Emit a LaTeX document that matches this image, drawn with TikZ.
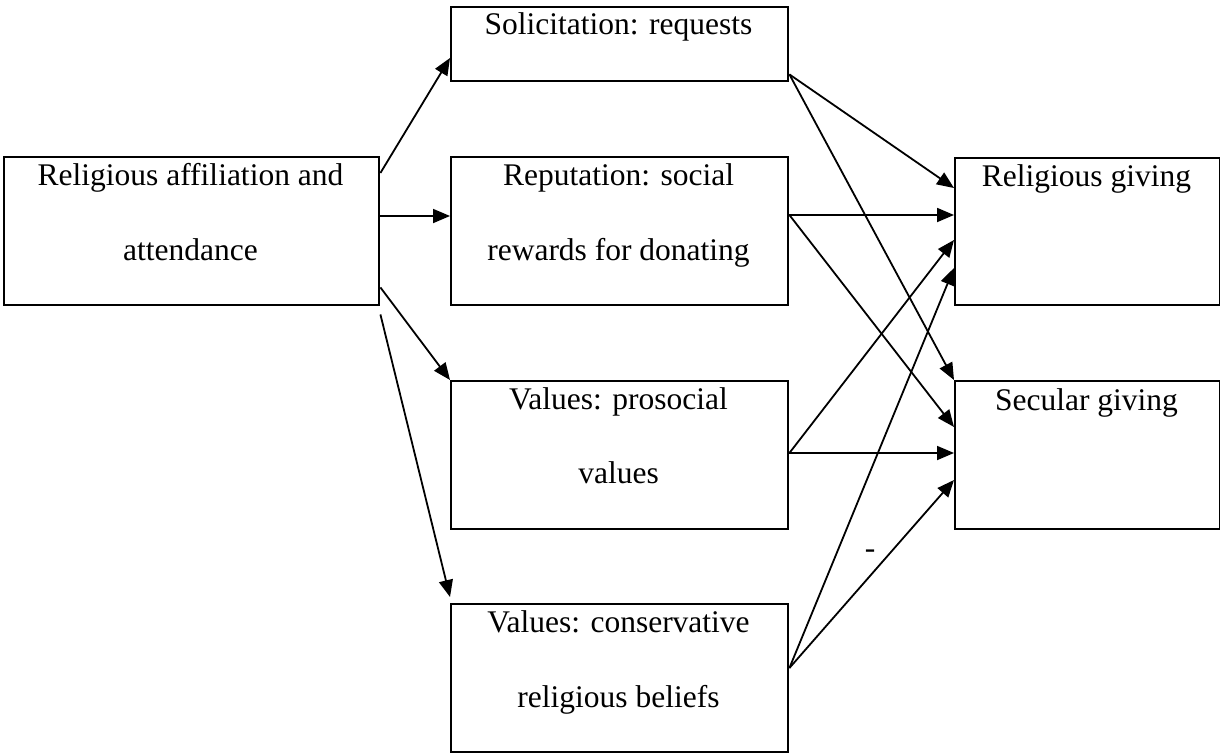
\documentclass[tikz,border=0pt]{standalone}
\usepackage{fontspec}
\setmainfont{Liberation Serif}
\usetikzlibrary{arrows.meta,calc}
\begin{document}
\begin{tikzpicture}[x=1pt,y=-1pt,
  box/.style={draw, line width=2.4pt, inner sep=0pt, anchor=north west},
  txt/.style={anchor=base, inner sep=0pt, font=\fontsize{31.5}{38}\selectfont},
  arr/.style={line width=1.8pt, -{Triangle[length=17pt,width=14pt]}}]
\useasboundingbox (0,0) rectangle (1220,752);
% boxes
\node[box, minimum width=375pt, minimum height=148pt] (aff) at (3,156) {};
\node[box, minimum width=337pt, minimum height=74pt]  (sol) at (450,6) {};
\node[box, minimum width=337pt, minimum height=148pt] (rep) at (450,156) {};
\node[box, minimum width=337pt, minimum height=148pt] (pro) at (450,380) {};
\node[box, minimum width=337pt, minimum height=148pt] (con) at (450,603) {};
\node[box, minimum width=265pt, minimum height=147pt] (rel) at (954,157) {};
\node[box, minimum width=265pt, minimum height=148pt] (sec) at (954,380) {};
% texts
\node[txt] (aff1) at (190.5,185) {Religious affiliation and};
\node[txt] (aff2) at (190.5,260) {attendance};
\node[txt] (sol1) at (618.5,35) {Solicitation: requests};
\node[txt] (rep1) at (618.5,185) {Reputation: social};
\node[txt] (rep2) at (618.5,260) {rewards for donating};
\node[txt] (pro1) at (618.5,409) {Values: prosocial};
\node[txt] (pro2) at (618.5,483) {values};
\node[txt] (con1) at (618.5,632) {Values: conservative};
\node[txt] (con2) at (618.5,707) {religious beliefs};
\node[txt] (rel1) at (1086.5,186) {Religious giving};
\node[txt] (sec1) at (1086.5,410) {Secular giving};
% left arrows
\draw[arr] ($(aff.north east)+(0,17)$) -- ($(sol.north west)+(0,52)$);
\draw[arr] ($(aff.north east)+(0,60)$) -- ($(rep.north west)+(0,60)$);
\draw[arr] ($(aff.south east)+(0,-19)$) -- (pro.north west);
\draw[arr] ($(aff.south east)+(0,8)$) -- ($(con.north west)+(0,-6)$);
% right arrows
\coordinate (solo) at ($(sol.south east)+(0,-8)$);
\coordinate (repo) at ($(rep.north east)+(0,59)$);
\coordinate (proo) at ($(pro.north east)+(0,73)$);
\coordinate (cono) at ($(con.north east)+(0,65)$);
\draw[arr] (solo) -- ($(rel.north west)+(0,31)$);
\draw[arr] (solo) -- (sec.north west);
\draw[arr] (repo) -- ($(rel.north west)+(0,58)$);
\draw[arr] (repo) -- ($(sec.north west)+(0,47)$);
\draw[arr] (proo) -- ($(rel.north west)+(0,83)$);
\draw[arr] (proo) -- ($(sec.north west)+(0,73)$);
\draw[arr] (cono) -- ($(rel.north west)+(0,111)$);
\draw[arr] (cono) -- ($(sec.north west)+(0,100)$);
\node[txt] (minus) at (870,558) {-};
\end{tikzpicture}
\end{document}
